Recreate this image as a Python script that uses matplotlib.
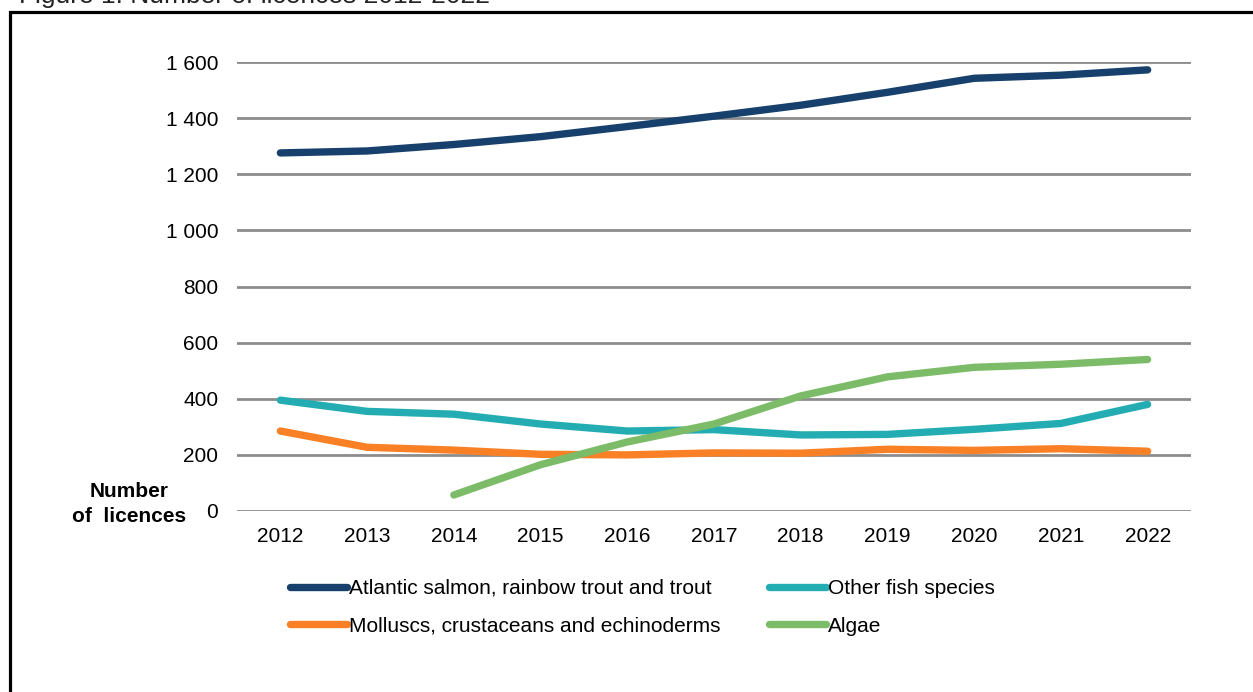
import matplotlib
matplotlib.use('Agg')
import matplotlib.pyplot as plt
from matplotlib.lines import Line2D
from matplotlib.patches import Rectangle

# -----------------------------------------------------
# data
# -----------------------------------------------------

years = ['2012', '2013', '2014', '2015', '2016', '2017', '2018', '2019', '2020', '2021', '2022']
salmon = [1276, 1283, 1306, 1334, 1370, 1407, 1446, 1492, 1542, 1553, 1572]
other_fish = [395, 355, 345, 310, 285, 290, 271, 273, 291, 312, 380]
molluscs = [285, 227, 217, 202, 200, 207, 206, 220, 216, 222, 213]
algae = [None, None, 57, 165, 246, 310, 410, 478, 512, 523, 540]
yticks = [0, 200, 400, 600, 800, 1000, 1200, 1400, 1600]

labels = ['Atlantic salmon, rainbow trout and trout', 'Other fish species',
          'Molluscs, crustaceans and echinoderms', 'Algae']
colors = ['#17406d', '#23adb2', '#f98024', '#7cbc68']

plt.rcParams['font.family'] = ['Liberation Sans', 'DejaVu Sans']
FS = 15

W, H = 1253, 692
fig = plt.figure(figsize=(W / 100, H / 100), dpi=100)

# outer frame (runs past right and bottom edges)
fig.patches.append(Rectangle((10 / W, -0.1), 1.2, (H - 11.5) / H + 0.1,
                             transform=fig.transFigure, fill=False,
                             edgecolor='black', linewidth=2.3))
# title, clipped at the top like the source
fig.text(19 / W, 1 - 3 / H, 'Figure 1: Number of licences 2012-2022',
         fontsize=19, color='#222222', ha='left', va='baseline')

ax = fig.add_axes([237 / W, 1 - 511 / H, (1191 - 237) / W, (511 - 62) / H])

x = list(range(len(years)))
series = [salmon, other_fish, molluscs, algae]
for vals, c in zip(series, colors):
    xs = [i for i, v in zip(x, vals) if v is not None]
    ys = [v for v in vals if v is not None]
    ax.plot(xs, ys, color=c, linewidth=5.3, solid_capstyle='round', zorder=3)

ax.set_xlim(-0.5, len(years) - 0.5)
ax.set_ylim(0, 1600)
ax.set_yticks(yticks)
ax.set_yticklabels([f'{v:,}'.replace(',', ' ') for v in yticks])
ax.set_xticks(x)
ax.set_xticklabels(years)
ax.tick_params(axis='both', length=0, labelsize=FS, colors='black')
ax.tick_params(axis='y', pad=13.5)
ax.tick_params(axis='x', pad=11.5)
ax.grid(axis='y', color='#8c8c8c', linewidth=2)
ax.set_axisbelow(True)
for s in ax.spines.values():
    s.set_visible(False)

fig.text(129.5 / W, 1 - 504 / H, 'Number\nof  licences', fontsize=FS,
         fontweight='bold', ha='center', va='center', linespacing=1.38)

handles = [Line2D([], [], color=c, linewidth=5.3, solid_capstyle='round') for c in colors]
order = [0, 2, 1, 3]
fig.legend([handles[i] for i in order], [labels[i] for i in order], ncol=2,
           loc='upper left', bbox_to_anchor=(290 / W, 1 - 579 / H), frameon=False,
           borderpad=0, borderaxespad=0, fontsize=FS, handlelength=2.75,
           handletextpad=0.1, columnspacing=2.3, labelspacing=0.9)

fig.savefig('out.png', dpi=100)
